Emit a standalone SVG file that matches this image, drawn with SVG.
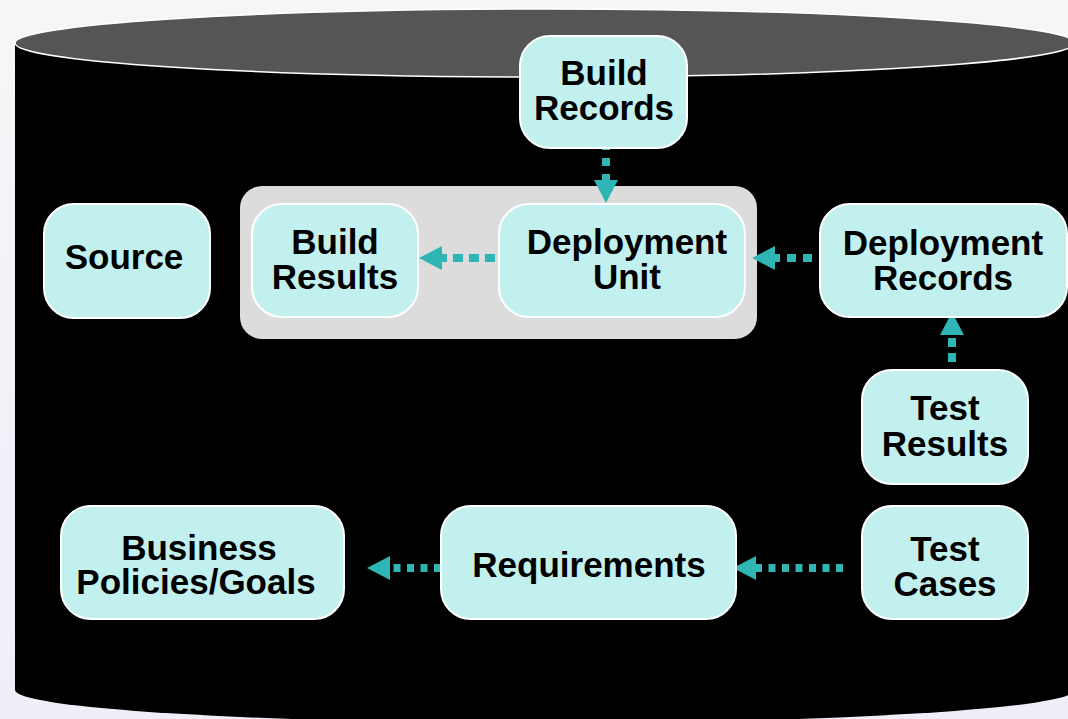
<svg xmlns="http://www.w3.org/2000/svg" width="1068" height="719" viewBox="0 0 1068 719">
  <defs>
    <linearGradient id="bg" x1="0" y1="0" x2="0" y2="1">
      <stop offset="0" stop-color="#f5f7f7"/>
      <stop offset="1" stop-color="#eeeef9"/>
    </linearGradient>
    <marker id="head" markerUnits="userSpaceOnUse" viewBox="0 -12 23 24" markerWidth="23" markerHeight="24" refX="0" refY="0" orient="auto" overflow="visible">
      <path d="M0,-12 L23,0 L0,12 Z" fill="#2eb5b4"/>
    </marker>
    <style>
      .node rect { fill: #c2f0ee; stroke: #ffffff; stroke-width: 2; }
      .node text { font-family: "Liberation Sans", Arial, sans-serif; font-weight: bold; font-size: 35px; fill: #000000; text-anchor: middle; }
      .conn { stroke: #2eb5b4; stroke-width: 8; fill: none; marker-end: url(#head); }
    </style>
  </defs>
  <rect x="0" y="0" width="1068" height="719" fill="url(#bg)"/>
  <g id="cylinder">
    <rect x="15" y="43" width="1060" height="647" fill="#000000"/>
    <ellipse cx="545" cy="690" rx="530" ry="33" fill="#000000"/>
    <ellipse cx="545" cy="43" rx="530" ry="34" fill="#555555" stroke="#ffffff" stroke-width="1.5"/>
  </g>
  <g id="group-container">
    <rect x="240" y="186" width="517" height="153" rx="22" fill="#dcdcdc"/>
  </g>
  <g id="connectors">
    <line class="conn" x1="606" y1="142" x2="606" y2="180" stroke-dasharray="8 8"/>
    <line class="conn" x1="495" y1="258" x2="442" y2="258" stroke-dasharray="10 6"/>
    <line class="conn" x1="812" y1="258" x2="775" y2="258" stroke-dasharray="9 7"/>
    <line class="conn" x1="952" y1="362" x2="952" y2="335" stroke-dasharray="9 6"/>
    <line class="conn" x1="441" y1="568" x2="390" y2="568" stroke-dasharray="7 6.5"/>
    <line class="conn" x1="843" y1="568" x2="756" y2="568" stroke-dasharray="7 6.5"/>
  </g>
  <g id="build-records" class="node">
    <rect x="520" y="36" width="167" height="112" rx="30"/>
    <text x="604" y="85">Build</text>
    <text x="604" y="120">Records</text>
  </g>
  <g id="source" class="node">
    <rect x="44" y="204" width="166" height="114" rx="30"/>
    <text x="124" y="269">Source</text>
  </g>
  <g id="build-results" class="node">
    <rect x="252" y="204" width="166" height="113" rx="30"/>
    <text x="335" y="254">Build</text>
    <text x="335" y="289">Results</text>
  </g>
  <g id="deployment-unit" class="node">
    <rect x="499" y="204" width="246" height="113" rx="30"/>
    <text x="627" y="254">Deployment</text>
    <text x="627" y="289">Unit</text>
  </g>
  <g id="deployment-records" class="node">
    <rect x="820" y="204" width="247" height="113" rx="30"/>
    <text x="943" y="255">Deployment</text>
    <text x="943" y="290">Records</text>
  </g>
  <g id="test-results" class="node">
    <rect x="862" y="370" width="166" height="114" rx="30"/>
    <text x="945" y="420">Test</text>
    <text x="945" y="456">Results</text>
  </g>
  <g id="test-cases" class="node">
    <rect x="862" y="506" width="166" height="113" rx="30"/>
    <text x="945" y="561">Test</text>
    <text x="945" y="596">Cases</text>
  </g>
  <g id="requirements" class="node">
    <rect x="441" y="506" width="295" height="113" rx="30"/>
    <text x="589" y="577">Requirements</text>
  </g>
  <g id="business-policies" class="node">
    <rect x="61" y="506" width="283" height="113" rx="30"/>
    <text x="199" y="560">Business</text>
    <text x="196" y="594">Policies/Goals</text>
  </g>
</svg>
